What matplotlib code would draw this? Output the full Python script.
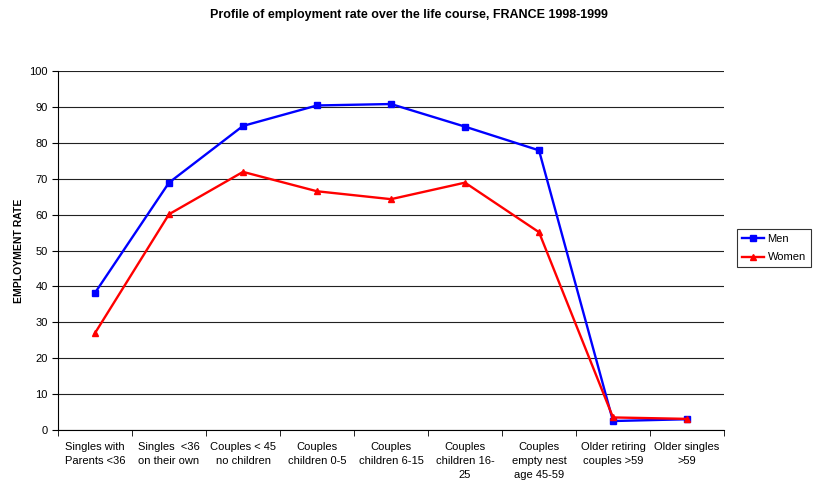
import matplotlib
matplotlib.use("Agg")
import matplotlib.pyplot as plt
import numpy as np

plt.rcParams['font.family'] = ['Liberation Sans', 'DejaVu Sans']

categories = ["Singles with\nParents <36", "Singles  <36\non their own", "Couples < 45\nno children",
              "Couples\nchildren 0-5", "Couples\nchildren 6-15", "Couples\nchildren 16-\n25",
              "Couples\nempty nest\nage 45-59", "Older retiring\ncouples >59", "Older singles\n>59"]
men = [38.2, 68.9, 84.7, 90.4, 90.8, 84.5, 77.9, 2.5, 3.0]
women = [27.0, 60.1, 71.9, 66.5, 64.3, 68.9, 55.1, 3.5, 3.1]

fig = plt.figure(figsize=(8.18, 4.88), dpi=100)
ax = fig.add_axes([58/818, 58/488, (724-58)/818, (430-71)/488])

x = np.arange(len(categories))
ax.plot(x, men, color='#0000FF', lw=1.7, marker='s', ms=5, label='Men', zorder=3)
ax.plot(x, women, color='#FF0000', lw=1.7, marker='^', ms=5, label='Women', zorder=3)

ax.set_xlim(-0.5, len(categories) - 0.5)
ax.set_ylim(0, 100)
ax.set_yticks(np.arange(0, 101, 10))
ax.yaxis.grid(True, color='#222222', lw=0.8)
ax.set_axisbelow(True)
ax.set_xticks(x)
ax.set_xticklabels(categories, fontsize=8, linespacing=1.45)
ax.tick_params(axis='x', which='major', length=0, pad=9)
ax.set_xticks(np.arange(-0.5, len(categories), 1), minor=True)
ax.tick_params(axis='x', which='minor', length=4, direction='out', color='black')
ax.tick_params(axis='y', labelsize=8, length=4, direction='out')
for s in ['top', 'right']:
    ax.spines[s].set_visible(False)
ax.spines['left'].set_color('black')
ax.spines['bottom'].set_color('black')

ax.set_ylabel('EMPLOYMENT RATE', fontsize=7.5, fontweight='bold', labelpad=4)
fig.text(409/818, 1 - 15/488, 'Profile of employment rate over the life course, FRANCE 1998-1999',
         ha='center', va='center', fontsize=9, fontweight='bold')

leg = ax.legend(loc='center left', bbox_to_anchor=(737/818, 1 - 248/488), bbox_transform=fig.transFigure,
                fontsize=8, frameon=True, fancybox=False, edgecolor='black', borderpad=0.45,
                handlelength=2.0, handletextpad=0.3, labelspacing=0.8, borderaxespad=0,
                markerscale=0.9)
leg.get_frame().set_linewidth(0.8)

fig.savefig('out.png', dpi=100)
